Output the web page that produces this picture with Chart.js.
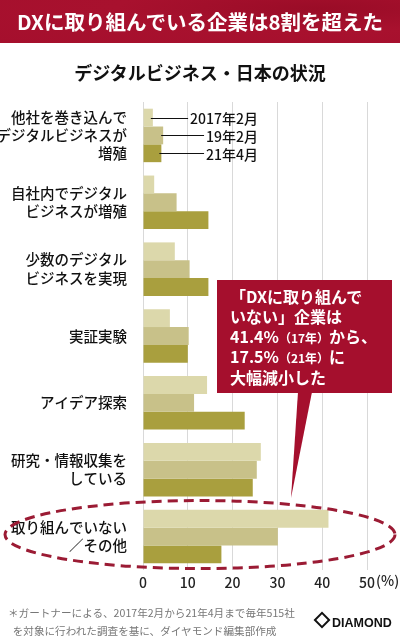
<!DOCTYPE html>
<html lang="ja">
<head>
<meta charset="utf-8">
<script src="https://cdn.jsdelivr.net/npm/chart.js@4"></script>
<style>
  html, body { margin: 0; padding: 0; background: #fff; }
  body { width: 400px; height: 644px; position: relative; overflow: hidden;
         font-family: "Noto Sans CJK JP", "Noto Sans", sans-serif; }
  #wrap { position: absolute; left: 0; top: 0; width: 400px; height: 644px; }
  .band { position: absolute; left: 0; top: 0; width: 400px; height: 43px;
          background: radial-gradient(ellipse at 80% 20%, #9a0c27 0%, #a8112e 45%, #a50f2d 100%);
          color: #fff; font-weight: 700; font-size: 20.5px; line-height: 43px; text-align: center; white-space: nowrap; }
  .sub { position: absolute; left: 0; top: 58px; width: 400px; text-align: center;
         font-weight: 700; font-size: 18px; line-height: 28px; color: #111; }
  .callout { position: absolute; left: 230px; top: 287px; color: #fff; font-weight: 700;
             font-size: 16px; line-height: 19.8px; white-space: nowrap; }
  .callout small { font-size: 12px; }
  .note { position: absolute; left: 8px; top: 604px; color: #777; font-size: 10.6px; line-height: 18px; white-space: nowrap; }
  .logo { position: absolute; left: 316px; top: 613px; width: 84px; font-family: "Liberation Sans", Arial, sans-serif;
          font-weight: 700; font-size: 12.5px; color: #111; line-height: 20px; white-space: nowrap; }
  .logo i { display: inline-block; width: 8px; height: 8px; border: 2px solid #111; transform: rotate(45deg);
            margin-right: 4px; vertical-align: 1px; }
</style>
</head>
<body>
<div id="wrap"><canvas id="chart"></canvas></div>
<div class="band">DXに取り組んでいる企業は8割を超えた</div>
<div class="sub">デジタルビジネス・日本の状況</div>
<div class="callout">「DXに取り組んで<br>いない」企業は<br>41.4%<small>（17年）</small>から、<br>17.5%<small>（21年）</small>に<br>大幅減小した</div>
<div class="note">＊ガートナーによる、2017年2月から21年4月まで毎年515社<br>&nbsp;&nbsp;を対象に行われた調査を基に、ダイヤモンド編集部作成</div>
<div class="logo"><i></i>DIAMOND</div>
<script>
const categories = [
  ['他社を巻き込んで', 'デジタルビジネスが', '増殖'],
  ['自社内でデジタル', 'ビジネスが増殖'],
  ['少数のデジタル', 'ビジネスを実現'],
  '実証実験',
  'アイデア探索',
  ['研究・情報収集を', 'している'],
  ['取り組んでいない', '／その他'],
];
const seriesNames = ['2017年2月', '19年2月', '21年4月'];
const feb2017 = [2.2, 2.5, 7.1, 6.0, 14.3, 26.3, 41.4];
const feb2019 = [4.5, 7.5, 10.4, 10.2, 11.4, 25.4, 30.1];
const apr2021 = [4.1, 14.6, 14.6, 10.0, 22.7, 24.5, 17.5];
const xTicks = [0, 10, 20, 30, 40, 50];

const colors = ['#dcd8ab', '#c8c189', '#a99f3e'];
const FONT = '"Noto Sans CJK JP", "Noto Sans", sans-serif';

// legend lines, dashed ellipse, callout box
const decor = {
  id: 'decor',
  beforeDatasetsDraw(chart) {
    const ctx = chart.ctx;
    // callout box with pointer
    ctx.save();
    ctx.fillStyle = '#a50f2d';
    ctx.fillRect(217, 280, 175, 113);
    ctx.beginPath();
    ctx.moveTo(298, 392);
    ctx.lineTo(312, 392);
    ctx.lineTo(291, 498);
    ctx.closePath();
    ctx.fill();
    ctx.restore();
  },
  afterDatasetsDraw(chart) {
    const ctx = chart.ctx;
    ctx.save();
    ctx.font = '500 14px ' + FONT;
    ctx.fillStyle = '#111';
    ctx.strokeStyle = '#111';
    ctx.lineWidth = 1;
    ctx.textBaseline = 'middle';
    ctx.textAlign = 'right';
    seriesNames.forEach((name, i) => {
      const bar = chart.getDatasetMeta(i).data[0];
      const right = 258;
      const w = ctx.measureText(name).width;
      ctx.beginPath();
      ctx.moveTo(bar.x - 2, Math.round(bar.y) + 0.5);
      ctx.lineTo(right - w - 2, Math.round(bar.y) + 0.5);
      ctx.stroke();
      ctx.fillText(name, right, bar.y + 1);
    });
    // dashed ellipse round the last group
    const last = chart.getDatasetMeta(1).data[categories.length - 1];
    ctx.strokeStyle = '#9b1b34';
    ctx.lineWidth = 3;
    ctx.setLineDash([10, 6]);
    ctx.beginPath();
    ctx.ellipse(200, last.y - 2, 195, 34, 0, 0, Math.PI * 2);
    ctx.stroke();
    ctx.restore();
  },
  afterDraw(chart) {
    const ctx = chart.ctx;
    const x = chart.scales.x;
    ctx.save();
    ctx.font = '500 14px ' + FONT;
    ctx.fillStyle = '#222';
    ctx.textBaseline = 'middle';
    ctx.textAlign = 'left';
    ctx.fillText('(%)', x.getPixelForValue(50) + 9, 581);
    ctx.restore();
  }
};

new Chart(document.getElementById('chart'), {
  type: 'bar',
  data: {
    labels: categories,
    datasets: [
      { label: seriesNames[0], data: feb2017, backgroundColor: colors[0] },
      { label: seriesNames[1], data: feb2019, backgroundColor: colors[1] },
      { label: seriesNames[2], data: apr2021, backgroundColor: colors[2] },
    ]
  },
  options: {
    indexAxis: 'y',
    responsive: true,
    maintainAspectRatio: false,
    animation: false,
    categoryPercentage: 0.8,
    barPercentage: 1.0,
    layout: { padding: { left: 0, right: 33, top: 102, bottom: 48 } },
    plugins: { legend: { display: false }, tooltip: { enabled: false } },
    scales: {
      x: {
        min: 0, max: 50,
        afterBuildTicks: s => { s.ticks = xTicks.map(v => ({ value: v })); },
        afterFit: s => { s.height = 26; },
        grid: { color: '#d9d9d9', lineWidth: 1, drawTicks: false },
        border: { display: false },
        ticks: { color: '#222', padding: 4, font: { family: FONT, size: 14, weight: 500 } }
      },
      y: {
        afterFit: s => { s.width = 143; },
        grid: { display: false },
        border: { display: false },
        ticks: { color: '#111', padding: 8, font: { family: FONT, size: 14.5, weight: 500, lineHeight: 1.27 } }
      }
    }
  },
  plugins: [decor]
});
</script>
</body>
</html>
